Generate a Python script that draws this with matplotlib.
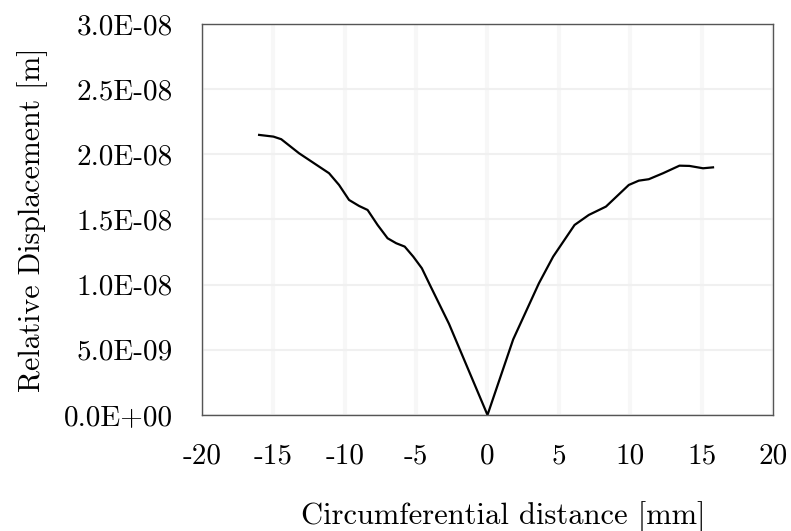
"""
Relative displacement along the circumferential distance.
"""
import matplotlib
matplotlib.use("Agg")
import matplotlib.pyplot as plt
from matplotlib.ticker import FuncFormatter

# values (x in mm, displacement in m)
distance_mm = [-16.0, -15.0, -14.45, -13.2, -11.8, -11.1, -10.4, -9.7, -9.0,
               -8.4, -7.7, -7.0, -6.4, -5.8, -5.2, -4.6, -4.0, -2.7, 0.0,
               1.8, 3.6, 4.6, 6.1, 7.1, 8.3, 9.9, 10.6, 11.3, 12.3, 13.45,
               14.15, 15.1, 15.8]
displacement_m = [2.149e-8, 2.136e-8, 2.116e-8, 2.008e-8, 1.906e-8, 1.855e-8,
                  1.765e-8, 1.65e-8, 1.604e-8, 1.573e-8, 1.458e-8, 1.356e-8,
                  1.318e-8, 1.292e-8, 1.215e-8, 1.126e-8, 9.9e-9, 7.0e-9, 0.0,
                  5.8e-9, 1.01e-8, 1.215e-8, 1.458e-8, 1.535e-8, 1.599e-8,
                  1.765e-8, 1.798e-8, 1.809e-8, 1.855e-8, 1.913e-8, 1.911e-8,
                  1.893e-8, 1.90e-8]
x_ticks = [-20, -15, -10, -5, 0, 5, 10, 15, 20]
y_ticks = [0.0, 5e-9, 1e-8, 1.5e-8, 2e-8, 2.5e-8, 3e-8]

plt.rcParams['font.family'] = 'serif'
plt.rcParams['font.serif'] = ['cmr10', 'DejaVu Serif']
plt.rcParams['axes.unicode_minus'] = False

fig = plt.figure(figsize=(7.91, 5.31), dpi=100)
ax = fig.add_axes([0.2554, 0.2185, 0.7218, 0.7363])

ax.plot(distance_mm, displacement_m, color='black', lw=1.6,
        solid_joinstyle='round')

ax.set_xlim(-20, 20)
ax.set_ylim(0, 3e-8)
ax.set_xticks(x_ticks)
ax.set_yticks(y_ticks)
ax.xaxis.set_major_formatter(FuncFormatter(lambda v, p: f"{int(round(v))}"))
ax.yaxis.set_major_formatter(FuncFormatter(lambda v, p: f"{v:.1E}"))
ax.tick_params(length=0, labelsize=21)
ax.tick_params(axis='y', pad=21)
ax.tick_params(axis='x', pad=20)
ax.grid(axis='y', color='#f0f0f0', lw=1.5)
ax.grid(axis='x', color='#f7f7f7', lw=3)
ax.set_axisbelow(True)
for s in ax.spines.values():
    s.set_color('#555555')
    s.set_linewidth(1.0)

# the x label sits a bit right of the axes centre in the original
ax.set_xlabel('Circumferential distance [mm]', fontsize=22, labelpad=23, x=0.527)
ax.set_ylabel('Relative Displacement [m]', fontsize=21.5, labelpad=11)

fig.savefig('out.png', dpi=100)
plt.close(fig)
